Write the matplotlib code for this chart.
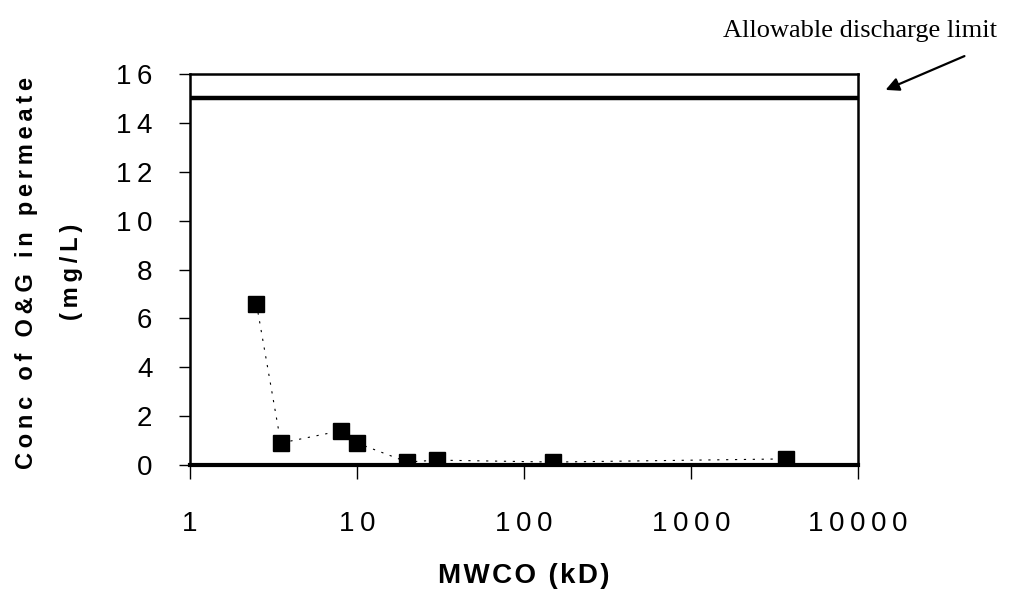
import matplotlib
matplotlib.use('Agg')
import matplotlib.pyplot as plt
from matplotlib.patches import FancyArrowPatch

# MWCO (kD) vs conc of O&G in permeate (mg/L)
mwco = [2.5, 3.5, 8, 10, 20, 30, 150, 3700]
conc = [6.6, 0.9, 1.4, 0.9, 0.12, 0.2, 0.12, 0.25]
limit = 15
x_ticks = [1, 10, 100, 1000, 10000]
y_ticks = [0, 2, 4, 6, 8, 10, 12, 14, 16]

TS = '\u2009'  # thin space, the original text is letter-spaced


def spaced(s):
    return TS.join(s)


plt.rcParams['font.family'] = ['Liberation Sans', 'DejaVu Sans']

W, H = 1015, 599
fig = plt.figure(figsize=(W / 100, H / 100), dpi=100)
ax = fig.add_axes([190 / W, 1 - 465 / H, 668 / W, 391 / H])

ax.plot(mwco, conc, color='black', linestyle=(0, (2, 6)), linewidth=0.8,
        marker='s', markersize=11, markerfacecolor='black', markeredgecolor='black')
ax.plot([x_ticks[0], x_ticks[-1]], [limit, limit], color='black', linewidth=3.2)

ax.set_xscale('log')
ax.set_xlim(1, 10000)
ax.set_ylim(0, 16)
ax.minorticks_off()
ax.set_xticks(x_ticks)
ax.set_xticklabels([spaced(str(v)) for v in x_ticks])
ax.set_yticks(y_ticks)
ax.set_yticklabels([spaced(str(v)) for v in y_ticks])

ax.tick_params(axis='x', direction='out', length=10, width=1, pad=23, labelsize=20)
ax.tick_params(axis='y', direction='out', length=8, width=1, pad=19, labelsize=20)
for s in ['left', 'right', 'top']:
    ax.spines[s].set_linewidth(1.8)
ax.spines['bottom'].set_linewidth(3)

# y label as two separate rotated lines
fig.text(33 / W, 1 - 273 / H, spaced('Conc of O&G in permeate'), rotation=90,
         rotation_mode='anchor', ha='center', va='baseline',
         fontsize=17, fontweight='bold')
fig.text(78 / W, 1 - 272 / H, spaced('(mg/L)'), rotation=90,
         rotation_mode='anchor', ha='center', va='baseline',
         fontsize=17, fontweight='bold')

fig.text(524 / W, 1 - 583 / H, '\u200a'.join('MWCO (kD)'), ha='center', va='baseline',
         fontsize=20, fontweight='bold')

fig.text(997 / W, 1 - 37 / H, 'Allowable discharge limit', ha='right', va='baseline',
         fontsize=19, family='Liberation Serif')
fig.patches.append(FancyArrowPatch(
    (967 / W, 1 - 55 / H), (883 / W, 1 - 91 / H),
    transform=fig.transFigure, arrowstyle='-|>', mutation_scale=20,
    color='black', linewidth=1.6))

fig.savefig('out.png', dpi=100)
